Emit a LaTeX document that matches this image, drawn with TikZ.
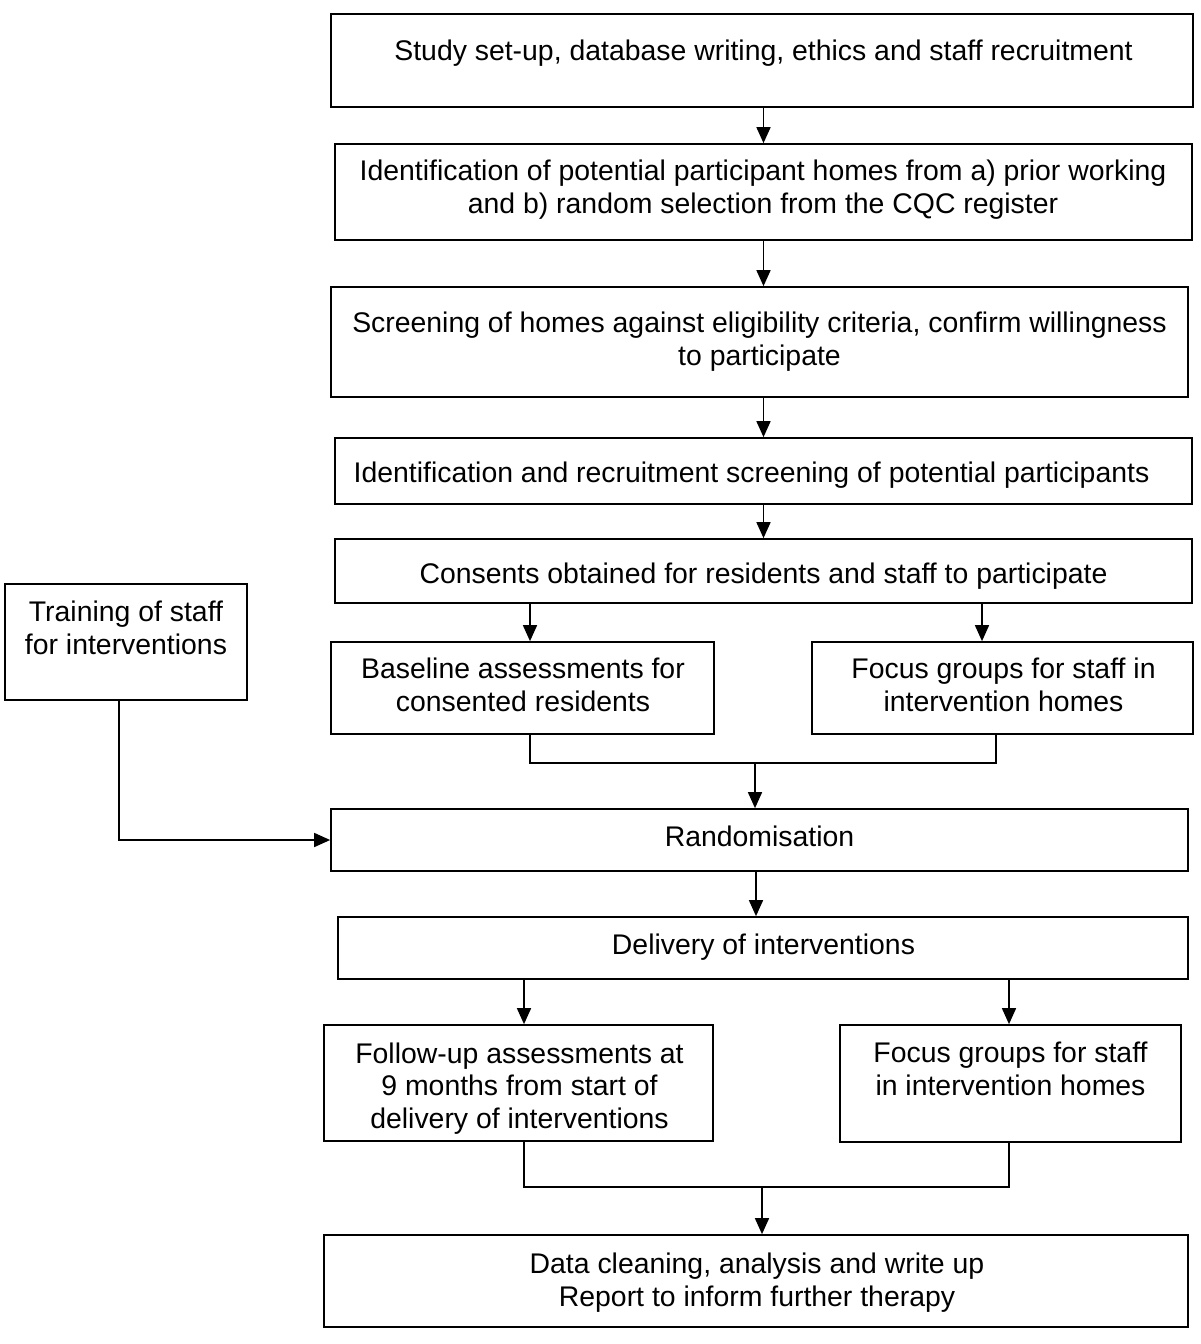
\documentclass[tikz,border=0pt]{standalone}
\usepackage{fontspec}
\setmainfont{Liberation Sans}
\usetikzlibrary{arrows.meta}
\begin{document}
\begin{tikzpicture}[x=0.5pt,y=-0.5pt,
  box/.style={draw=black, line width=0.85pt, rectangle, inner sep=0pt, fill=none},
  txt/.style={font=\fontsize{14.2}{16.25}\selectfont, align=center, inner sep=0pt, anchor=base},
  link/.style={draw=black, line width=0.8pt},
  arr/.style={link, -{Triangle[length=8pt,width=7pt]}}]
\useasboundingbox (0,0) rectangle (1200,1344);
\fill[white] (0,0) rectangle (1200,1344);

% boxes
\node[box, minimum width=431pt, minimum height=46.5pt] (b1) at (762,60.5) {};
\node[box, minimum width=428.5pt, minimum height=48pt] (b2) at (763.5,192) {};
\node[box, minimum width=428.5pt, minimum height=55pt] (b3) at (759.5,342) {};
\node[box, minimum width=428.5pt, minimum height=33pt] (b4) at (763.5,471) {};
\node[box, minimum width=428.5pt, minimum height=32pt] (b5) at (763.5,571) {};
\node[box, minimum width=191.5pt, minimum height=46pt] (b6) at (522.5,688) {};
\node[box, minimum width=190.5pt, minimum height=46pt] (b7) at (1002.5,688) {};
\node[box, minimum width=121pt, minimum height=58pt] (tr) at (126,642) {};
\node[box, minimum width=428.5pt, minimum height=31pt] (rand) at (759.5,840) {};
\node[box, minimum width=425pt, minimum height=31pt] (del) at (763,948) {};
\node[box, minimum width=194.5pt, minimum height=58pt] (fu) at (518.5,1083) {};
\node[box, minimum width=170.5pt, minimum height=58.5pt] (f2) at (1010.5,1083.5) {};
\node[box, minimum width=432pt, minimum height=46pt] (data) at (756,1281) {};

% texts (anchor base = baseline of the last line)
\node[txt] (t1) at (763.5,60) {Study set-up, database writing, ethics and staff recruitment};
\node[txt] (t2) at (763,213) {Identification of potential participant homes from a) prior working\\and b) random selection from the CQC register};
\node[txt] (t3) at (759.5,365) {Screening of homes against eligibility criteria, confirm willingness\\to participate};
\node[txt] (t4) at (751.5,482) {Identification and recruitment screening of potential participants};
\node[txt] (t5) at (763.5,583) {Consents obtained for residents and staff to participate};
\node[txt] (t6) at (523,711) {Baseline assessments for\\consented residents};
\node[txt] (t7) at (1003.5,711) {Focus groups for staff in\\intervention homes};
\node[txt] (t8) at (126,654) {Training of staff\\for interventions};
\node[txt] (t9) at (759.5,846) {Randomisation};
\node[txt] (t10) at (763.5,954) {Delivery of interventions};
\node[txt] (t11) at (519.5,1128) {Follow-up assessments at\\9 months from start of\\delivery of interventions};
\node[txt] (t12) at (1010.5,1095) {Focus groups for staff\\in intervention homes};
\node[txt] (t13) at (757,1306) {Data cleaning, analysis and write up\\Report to inform further therapy};

% helper columns
\coordinate (xA) at (530,0);
\coordinate (xB) at (982,0);
\coordinate (xC) at (996,0);
\coordinate (xD) at (756,0);
\coordinate (xE) at (524,0);
\coordinate (xF) at (1009,0);
\coordinate (xT) at (119,0);
\coordinate (mg1) at (755,763);
\coordinate (mg2) at (762,1187);

% connectors
\draw[arr] (b1.south -| b2.north) -- (b2.north);
\draw[arr] (b2.south) -- (b3.north -| b2.south);
\draw[arr] (b3.south -| b4.north) -- (b4.north);
\draw[arr] (b4.south) -- (b5.north);
\draw[arr] (b5.south -| xA) -- (b6.north -| xA);
\draw[arr] (b5.south -| xB) -- (b7.north -| xB);
\draw[link] (b6.south -| xA) |- (mg1) -| (b7.south -| xC);
\draw[arr] (mg1) -- (rand.north -| mg1);
\draw[arr] (tr.south -| xT) |- (rand.west);
\draw[arr] (rand.south -| xD) -- (del.north -| xD);
\draw[arr] (del.south -| xE) -- (fu.north -| xE);
\draw[arr] (del.south -| xF) -- (f2.north -| xF);
\draw[link] (fu.south -| xE) |- (mg2) -| (f2.south -| xF);
\draw[arr] (mg2) -- (data.north -| mg2);
\end{tikzpicture}
\end{document}
